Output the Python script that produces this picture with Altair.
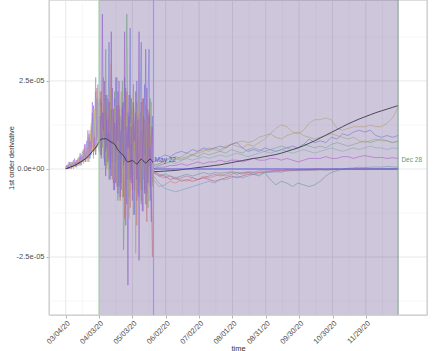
import altair as alt
import pandas as pd

# ---------------- data (values in units of 1e-5) ----------------
# early period: daily, 2020-03-04 .. 2020-05-22 (80 days)
early_start = "2020-03-04"
early_purple = [0, 0.05, 0.1, 0, 0.1, 0.15, 0.05, 0.1, 0.2, 0.1,
                0.15, 0.3, 0.1, 0.2, 0.4, 0.2, 0.3, 0.5, 0.2, 0.6,
                0.3, 0.9, 0.4, 1.2, 0.5, 1.8, 0.6, 2.2, 0.8, 1.5,
                0.7, 2.0, 0.3, 4.4, 0.9, 1.6, -0.2, 2.1, 0.8, 1.4,
                -0.3, 3.9, 0.2, 1.7, -0.6, 1.3, 0.6, 2.2, -0.5, 1.1,
                0.3, 1.9, -0.8, 2.6, 0.1, 1.0, -3.3, 1.5, 0.5, 2.0,
                -0.6, 1.3, 0.2, 1.6, -0.9, 0.8, 3.9, -0.4, 1.1, -1.2,
                1.5, 0.4, 3.4, -0.7, 0.9, 1.6, -0.5, 1.2, 0.3, 0.2]
early_green = [0, 0.1, 0, 0.15, 0.05, 0.2, 0.1, 0.0, 0.2, 0.15,
               0.1, 0.25, 0.35, 0.1, 0.3, 0.5, 0.15, 0.4, 0.7, 0.3,
               0.8, 0.2, 1.1, 0.6, 1.4, 0.3, 1.6, 0.5, 2.0, 0.9,
               1.4, 0.4, 2.2, 0.6, 1.6, 0.8, 3.4, 0.1, 1.5, -0.3,
               1.9, 0.7, 1.1, -0.6, 2.2, 0.2, 1.4, -0.9, 1.7, 0.6,
               -0.4, 2.5, -2.3, -1.2, 1.8, 4.4, 0.9, -0.8, 2.1, 0.0,
               1.4, -1.3, 1.0, 0.5, 1.9, -0.7, 0.8, 1.6, -1.0, 1.3,
               0.3, -0.6, 1.8, 0.6, -1.1, 1.1, 2.0, 0.2, -0.4, 0.1]
early_orange = [0.05, 0, 0.1, 0.05, 0, 0.1, 0.2, 0.05, 0.15, 0.1,
                0.2, 0.1, 0.3, 0.15, 0.25, 0.4, 0.2, 0.6, 0.3, 0.5,
                0.2, 0.7, 1.0, 0.4, 0.9, 1.5, 0.5, 1.3, 2.3, 0.7,
                1.0, 2.2, 0.5, 1.2, 2.6, 0.2, 1.7, 0.9, 2.0, 0.3,
                1.3, 3.0, -0.3, 1.6, 0.7, 2.6, -0.5, 1.2, 1.8, -0.9,
                1.4, 0.4, 1.9, -1.4, 1.0, 2.2, -0.3, 1.4, -1.1, 1.7,
                0.6, 2.4, -0.6, 1.2, -1.6, 1.5, 0.3, 0.9, -0.9, 2.0,
                -0.3, 1.4, 0.7, -1.5, 1.7, 0.1, 1.0, -0.7, -2.5, 0.0]
early_blue = [0, 0.1, 0.05, 0.1, 0.2, 0.0, 0.15, 0.25, 0.1, 0.2,
              0.05, 0.2, 0.15, 0.35, 0.2, 0.3, 0.55, 0.25, 0.45, 0.8,
              0.4, 1.0, 0.3, 0.7, 1.6, 0.4, 1.1, 2.6, 0.6, 1.9,
              0.5, 1.1, 1.9, 0.8, 1.3, 0.1, 2.1, 0.6, 1.0, 3.6,
              0.0, 1.7, 0.9, -0.4, 2.0, 0.5, 2.6, -0.7, 1.0, 1.5,
              -0.6, 1.8, 1.2, 0.2, 2.3, -1.0, 1.6, 0.6, 4.0, -0.4,
              1.2, 1.9, -1.3, 0.8, 2.5, 0.0, -0.8, 1.8, 3.6, -0.6,
              1.0, 2.4, -1.0, 0.6, 2.1, 3.4, -0.9, 0.7, 1.5, 0.2]
early_yellow = [0, 0.05, 0.15, 0.1, 0.05, 0.2, 0.1, 0.15, 0.05, 0.25,
                0.2, 0.1, 0.3, 0.25, 0.15, 0.4, 0.3, 0.2, 0.6, 0.4,
                0.9, 0.3, 0.6, 1.3, 0.5, 0.8, 1.7, 0.4, 1.2, 2.0,
                0.6, 1.8, 0.8, 1.2, 0.3, 2.0, 0.9, 0.0, 1.7, 1.0,
                2.3, 0.4, 1.4, -0.3, 1.8, 1.1, -0.4, 2.0, 0.5, 1.3,
                2.2, -0.8, 0.8, 1.5, -0.5, 2.1, 0.3, -1.4, 1.3, 0.7,
                1.9, -0.4, 1.1, -2.4, 1.7, 0.9, 2.2, -0.6, 0.4, 1.6,
                -1.2, 0.8, 1.6, 0.2, -0.9, 1.3, 0.6, 1.9, -0.5, 0.1]
early_magenta = [0.05, 0.1, 0, 0.2, 0.1, 0.05, 0.15, 0.1, 0.3, 0.05,
                 0.25, 0.15, 0.2, 0.45, 0.1, 0.35, 0.25, 0.7, 0.2, 0.5,
                 1.1, 0.3, 0.8, 0.5, 1.9, 0.6, 0.9, 0.4, 1.4, 2.4,
                 0.8, 1.5, 0.4, 1.6, 1.1, 2.5, 0.5, 1.4, 0.2, 1.9,
                 1.0, -0.2, 2.3, 0.7, 1.3, -0.4, 1.8, 0.8, 2.5, -0.8,
                 0.9, 1.7, 0.1, 3.9, -1.6, 1.2, 0.6, 2.1, -0.3, 1.2,
                 -0.9, 1.8, 0.8, 2.2, -0.3, 1.4, -2.6, 1.0, 1.9, 0.3,
                 2.0, -0.7, 0.9, 2.3, -0.4, 1.5, 0.4, -1.5, 1.2, 0.2]

# late period: every 5 days, 2020-05-22 .. 2020-12-28 (45 points)
late_start = "2020-05-22"
late_yellow = [0.1, 0.15, 0.2, 0.3, 0.25, 0.35, 0.45, 0.4, 0.5, 0.55,
               0.5, 0.6, 0.55, 0.65, 0.7, 0.65, 0.6, 0.7, 0.65, 0.75,
               0.85, 1.0, 1.15, 1.25, 1.2, 1.05, 1.0, 1.1, 1.3, 1.4,
               1.4, 1.45, 1.4, 1.15, 1.1, 1.15, 1.2, 1.2, 1.2, 1.25,
               1.2, 1.2, 1.3, 1.45, 1.75]
late_khaki = [0.0, 0.1, 0.15, 0.2, 0.3, 0.25, 0.3, 0.4, 0.45, 0.5,
              0.6, 0.55, 0.5, 0.6, 0.7, 0.75, 0.8, 0.75, 0.8, 0.9,
              0.95, 1.0, 0.9, 0.85, 0.95, 1.0, 1.05, 0.95, 0.9, 0.85,
              0.9, 0.95, 1.0, 0.95, 0.9, 0.85, 0.9, 0.8, 0.75, 0.8,
              0.85, 0.8, 0.8, 0.75, 0.8]
late_blue = [0.2, 0.3, 0.4, 0.35, 0.45, 0.5, 0.45, 0.55, 0.5, 0.6,
             0.55, 0.6, 0.65, 0.6, 0.7, 0.75, 0.6, 0.5, 0.55, 0.5,
             0.6, 0.55, 0.5, 0.55, 0.6, 0.65, 0.6, 0.7, 0.85, 0.75,
             0.8, 0.75, 0.9, 0.85, 1.0, 0.95, 1.05, 1.1, 1.05, 1.1,
             0.95, 0.9, 0.95, 0.9, 0.95]
late_green = [0.1, 0.15, 0.25, 0.3, 0.35, 0.3, 0.35, 0.4, 0.35, 0.45,
              0.4, 0.45, 0.5, 0.45, 0.55, 0.5, 0.45, 0.55, 0.6, 0.55,
              0.5, 0.55, 0.6, 0.65, 0.6, 0.55, 0.6, 0.7, 0.65, 0.6,
              0.65, 0.6, 0.7, 0.75, 0.7, 0.65, 0.7, 0.75, 0.8, 0.75,
              0.8, 0.85, 0.8, 0.75, 0.78]
late_mint = [0.05, 0.1, 0.15, 0.2, 0.15, 0.25, 0.3, 0.25, 0.3, 0.35,
             0.3, 0.35, 0.4, 0.35, 0.4, 0.45, 0.4, 0.35, 0.4, 0.45,
             0.5, 0.45, 0.5, 0.55, 0.5, 0.45, 0.5, 0.55, 0.5, 0.45,
             0.5, 0.55, 0.6, 0.55, 0.5, 0.55, 0.6, 0.55, 0.6, 0.65,
             0.6, 0.6, 0.55, 0.6, 0.58]
late_magenta = [0.0, 0.05, 0.05, 0.1, 0.1, 0.15, 0.1, 0.15, 0.2, 0.15,
                0.2, 0.2, 0.25, 0.2, 0.25, 0.25, 0.2, 0.25, 0.3, 0.25,
                0.25, 0.3, 0.3, 0.25, 0.3, 0.25, 0.2, 0.25, 0.3, 0.3,
                0.3, 0.35, 0.3, 0.3, 0.35, 0.35, 0.3, 0.35, 0.38, 0.35,
                0.32, 0.33, 0.3, 0.32, 0.3]
late_red = [-0.05, -0.15, -0.2, -0.3, -0.25, -0.35, -0.3, -0.35, -0.3, -0.25,
            -0.3, -0.35, -0.3, -0.25, -0.2, -0.25, -0.2, -0.15, -0.15, -0.1,
            -0.1, -0.08, -0.05, -0.05, -0.03, -0.03, -0.02, -0.02, -0.01, 0.0,
            0.0, -0.01, 0.0, 0.0, -0.01, 0.0, 0.0, 0.0, -0.01, 0.0,
            0.0, 0.0, 0.0, 0.0, 0.0]
late_orange = [-0.3, -0.5, -0.45, -0.35, -0.4, -0.3, -0.35, -0.25, -0.3, -0.2,
               -0.25, -0.2, -0.15, -0.2, -0.15, -0.1, -0.15, -0.1, -0.08, -0.1,
               -0.08, -0.06, -0.08, -0.05, -0.06, -0.04, -0.05, -0.03, -0.04, -0.03,
               -0.02, -0.03, -0.02, -0.02, -0.01, -0.02, -0.01, -0.01, 0.0, -0.01,
               0.0, 0.0, -0.01, 0.0, 0.0]
late_teal = [-0.1, -0.2, -0.15, -0.2, -0.25, -0.2, -0.15, -0.2, -0.15, -0.1,
             -0.15, -0.1, -0.12, -0.1, -0.08, -0.1, -0.12, -0.1, -0.15, -0.2,
             -0.1, -0.3, -0.45, -0.35, -0.4, -0.5, -0.4, -0.45, -0.5, -0.45,
             -0.35, -0.2, -0.1, -0.05, 0.0, 0.02, 0.03, 0.05, 0.04, 0.05,
             0.06, 0.05, 0.07, 0.06, 0.05]
late_cyan = [-0.2, -0.4, -0.55, -0.6, -0.65, -0.6, -0.55, -0.5, -0.45, -0.4,
             -0.35, -0.4, -0.3, -0.3, -0.25, -0.2, -0.25, -0.2, -0.15, -0.15,
             -0.1, -0.1, -0.08, -0.1, -0.05, -0.05, -0.04, -0.05, -0.03, -0.03,
             -0.02, -0.03, -0.02, -0.01, -0.02, -0.01, 0.0, -0.01, 0.0, 0.0,
             0.0, 0.0, 0.0, 0.0, 0.0]
late_pink = [-0.1, -0.2, -0.25, -0.2, -0.3, -0.25, -0.2, -0.25, -0.3, -0.25,
             -0.2, -0.15, -0.2, -0.15, -0.1, -0.15, -0.1, -0.08, -0.1, -0.05,
             -0.06, -0.05, -0.04, -0.05, -0.03, -0.04, -0.03, -0.02, -0.03, -0.02,
             -0.02, -0.01, -0.02, -0.01, -0.01, 0.0, -0.01, 0.0, 0.0, 0.0,
             0.0, 0.0, 0.0, 0.0, 0.0]

# mean curve (black)
black_early_dates = ["2020-03-04", "2020-03-08", "2020-03-12", "2020-03-16", "2020-03-20",
                     "2020-03-24", "2020-03-28", "2020-04-01", "2020-04-05", "2020-04-09",
                     "2020-04-13", "2020-04-17", "2020-04-21", "2020-04-25", "2020-04-29",
                     "2020-05-03", "2020-05-07", "2020-05-11", "2020-05-15", "2020-05-19",
                     "2020-05-22"]
black_early = [0.0, 0.05, 0.1, 0.17, 0.25, 0.35, 0.5, 0.65, 0.85, 0.86,
               0.78, 0.7, 0.5, 0.38, 0.2, 0.24, 0.14, 0.28, 0.17, 0.28, 0.15]
black_late = [-0.08, -0.07, -0.06, -0.05, -0.04, -0.02, 0.0, 0.02, 0.04, 0.06,
              0.08, 0.1, 0.12, 0.15, 0.18, 0.21, 0.24, 0.27, 0.3, 0.32,
              0.35, 0.38, 0.41, 0.45, 0.5, 0.55, 0.6, 0.66, 0.73, 0.8,
              0.88, 0.96, 1.04, 1.12, 1.2, 1.28, 1.35, 1.42, 1.48, 1.54,
              1.6, 1.65, 1.7, 1.75, 1.8]

tick_dates = ["2020-03-04", "2020-04-03", "2020-05-03", "2020-06-02", "2020-07-02",
              "2020-08-01", "2020-08-31", "2020-09-30", "2020-10-30", "2020-11-29"]
minor_x = ["2020-03-19", "2020-04-18", "2020-05-18", "2020-06-17", "2020-07-17",
           "2020-08-16", "2020-09-15", "2020-10-15", "2020-11-14", "2020-12-14"]
y_ticks = [-2.5, 0.0, 2.5]
minor_y = [-3.75, -1.25, 1.25, 3.75]

start_date = "2020-04-03"
change_date = "2020-05-22"
end_date = "2020-12-28"
label_text = ["May 22", "Dec 28"]
label_dates = ["2020-05-23", "2020-12-31"]
label_colors = ["#4656c8", "#5c9c6a"]

# ---------------- build tables ----------------
early_dates = pd.date_range(early_start, periods=80, freq="D").strftime("%Y-%m-%d")
late_dates = pd.date_range(late_start, periods=45, freq="5D").strftime("%Y-%m-%d")

rows = []
early_series = [("e1", early_purple, "#a06ee6"), ("e2", early_green, "#7cc47c"),
                ("e3", early_orange, "#ec8a6e"), ("e4", early_blue, "#7a8cf0"),
                ("e5", early_yellow, "#d6c46a"), ("e6", early_magenta, "#b070e0")]
for sid, vals, col in early_series:
    for d, v in zip(early_dates, vals):
        rows.append({"date": d, "value": v, "sid": sid, "col": col})
late_series = [("l1", late_yellow, "#d8c060"), ("l2", late_khaki, "#bcc46c"),
               ("l3", late_blue, "#6f86e8"), ("l4", late_green, "#84c884"),
               ("l5", late_mint, "#8fd0c0"), ("l6", late_magenta, "#c860e0"),
               ("l7", late_red, "#e05a6a"), ("l8", late_orange, "#eaa060"),
               ("l9", late_teal, "#5fb8a0"), ("l10", late_cyan, "#7cc0e0"),
               ("l11", late_pink, "#e07ab0")]
for sid, vals, col in late_series:
    for d, v in zip(late_dates, vals):
        rows.append({"date": d, "value": v, "sid": sid, "col": col})
lines_df = pd.DataFrame(rows)

black_rows = [{"date": d, "value": v, "seg": "a"} for d, v in zip(black_early_dates, black_early)]
black_rows += [{"date": d, "value": v, "seg": "b"} for d, v in zip(late_dates, black_late)]
black_df = pd.DataFrame(black_rows)

# ---------------- scales & axes ----------------
FONT = "Liberation Sans"
x_scale = alt.Scale(type="utc", nice=False,
                    domain=[alt.DateTime(year=2020, month=2, date=18, utc=True),
                            alt.DateTime(year=2021, month=1, date=23, utc=True)])
y_scale = alt.Scale(domain=[-4.148, 4.8], nice=False, zero=False)

x_axis = alt.Axis(values=[alt.DateTime(year=int(t[:4]), month=int(t[5:7]), date=int(t[8:]), utc=True)
                          for t in tick_dates],
                  format="%m/%d/%y", labelAngle=-45, labelAlign="right", labelBaseline="top",
                  labelFontSize=7.5, labelColor="#4d4d4d", labelFont=FONT, labelPadding=1,
                  tickColor="#b3b3b3", tickSize=3, domain=False, grid=False,
                  title="time", titleFont=FONT, titleFontSize=7.5, titleFontWeight="normal",
                  titleColor="#333333", titleY=33, titleBaseline="middle")
y_axis = alt.Axis(values=y_ticks,
                  labelExpr="datum.value == 0 ? '0.0e+00' : (datum.value > 0 ? '2.5e-05' : '-2.5e-05')",
                  labelFontSize=7.5, labelColor="#4d4d4d", labelFont=FONT, labelPadding=2,
                  tickColor="#b3b3b3", tickSize=3, domain=False, grid=False,
                  title="1st order derivative", titleFont=FONT, titleFontSize=7.5,
                  titleFontWeight="normal", titleColor="#333333", titleX=-38,
                  titleBaseline="middle")


def XE(field="date"):
    return alt.X(f"{field}:T", scale=x_scale, axis=x_axis)


def YE(field="value"):
    return alt.Y(f"{field}:Q", scale=y_scale, axis=y_axis)


def vrule(date, color, width):
    return alt.Chart(pd.DataFrame({"date": [date]})).mark_rule(
        color=color, strokeWidth=width).encode(x=XE())


# ---------------- layers ----------------
major_v = alt.Chart(pd.DataFrame({"date": tick_dates})).mark_rule(
    color="#e2e2e2", strokeWidth=0.8).encode(x=XE())
major_h = alt.Chart(pd.DataFrame({"value": y_ticks})).mark_rule(
    color="#e2e2e2", strokeWidth=0.8).encode(y=YE())
minor_v = alt.Chart(pd.DataFrame({"date": minor_x})).mark_rule(
    color="#eeeeee", strokeWidth=0.5).encode(x=XE())
minor_h = alt.Chart(pd.DataFrame({"value": minor_y})).mark_rule(
    color="#eeeeee", strokeWidth=0.5).encode(y=YE())

lines = alt.Chart(lines_df).mark_line(strokeWidth=0.7, opacity=0.8, clip=True).encode(
    x=XE(), y=YE(), detail="sid:N", color=alt.Color("col:N", scale=None))

black = alt.Chart(black_df).mark_line(strokeWidth=0.8, color="#1a1a1a",
                                      interpolate="monotone").encode(
    x=XE(), y=YE(), detail="seg:N")

zero_line = alt.Chart(pd.DataFrame({"start": [change_date], "end": [end_date], "value": [0.0]})
                      ).mark_rule(color="#5a5ae8", strokeWidth=1.2).encode(
    x=XE("start"), x2="end:T", y=YE())

shade = alt.Chart(pd.DataFrame({"start": [start_date], "end": [end_date]})).mark_rect(
    color="#5D478B", opacity=0.3).encode(x=XE("start"), x2="end:T")

rule_start = vrule(start_date, "#9fd49f", 1.0)
rule_change = vrule(change_date, "#9d93f7", 1.2)
rule_end = vrule(end_date, "#7f9a8c", 1.0)

labels = alt.Chart(pd.DataFrame({"date": label_dates, "value": [0.25, 0.25],
                                 "label": label_text, "col": label_colors})).mark_text(
    align="left", baseline="middle", fontSize=6.5, font=FONT).encode(
    x=XE(), y=YE(), text="label:N", color=alt.Color("col:N", scale=None))

border = alt.Chart(pd.DataFrame({"k": [0]})).mark_rect(
    filled=False, stroke="#c8c8c8", strokeWidth=1).encode(
    x=alt.value(0), x2=alt.value(378), y=alt.value(-5), y2=alt.value(315))

chart = alt.layer(minor_v, minor_h, major_v, major_h, lines, black, shade, zero_line,
                  rule_start, rule_end, labels, border, rule_change).properties(
    width=378, height=315,
    autosize=alt.AutoSizeParams(type="none"),
    padding={"left": 49, "top": 0, "right": 9, "bottom": 36},
).configure_view(stroke=None).configure(background="white")

chart.save("out.html", embed_options={"renderer": "svg", "actions": False})
